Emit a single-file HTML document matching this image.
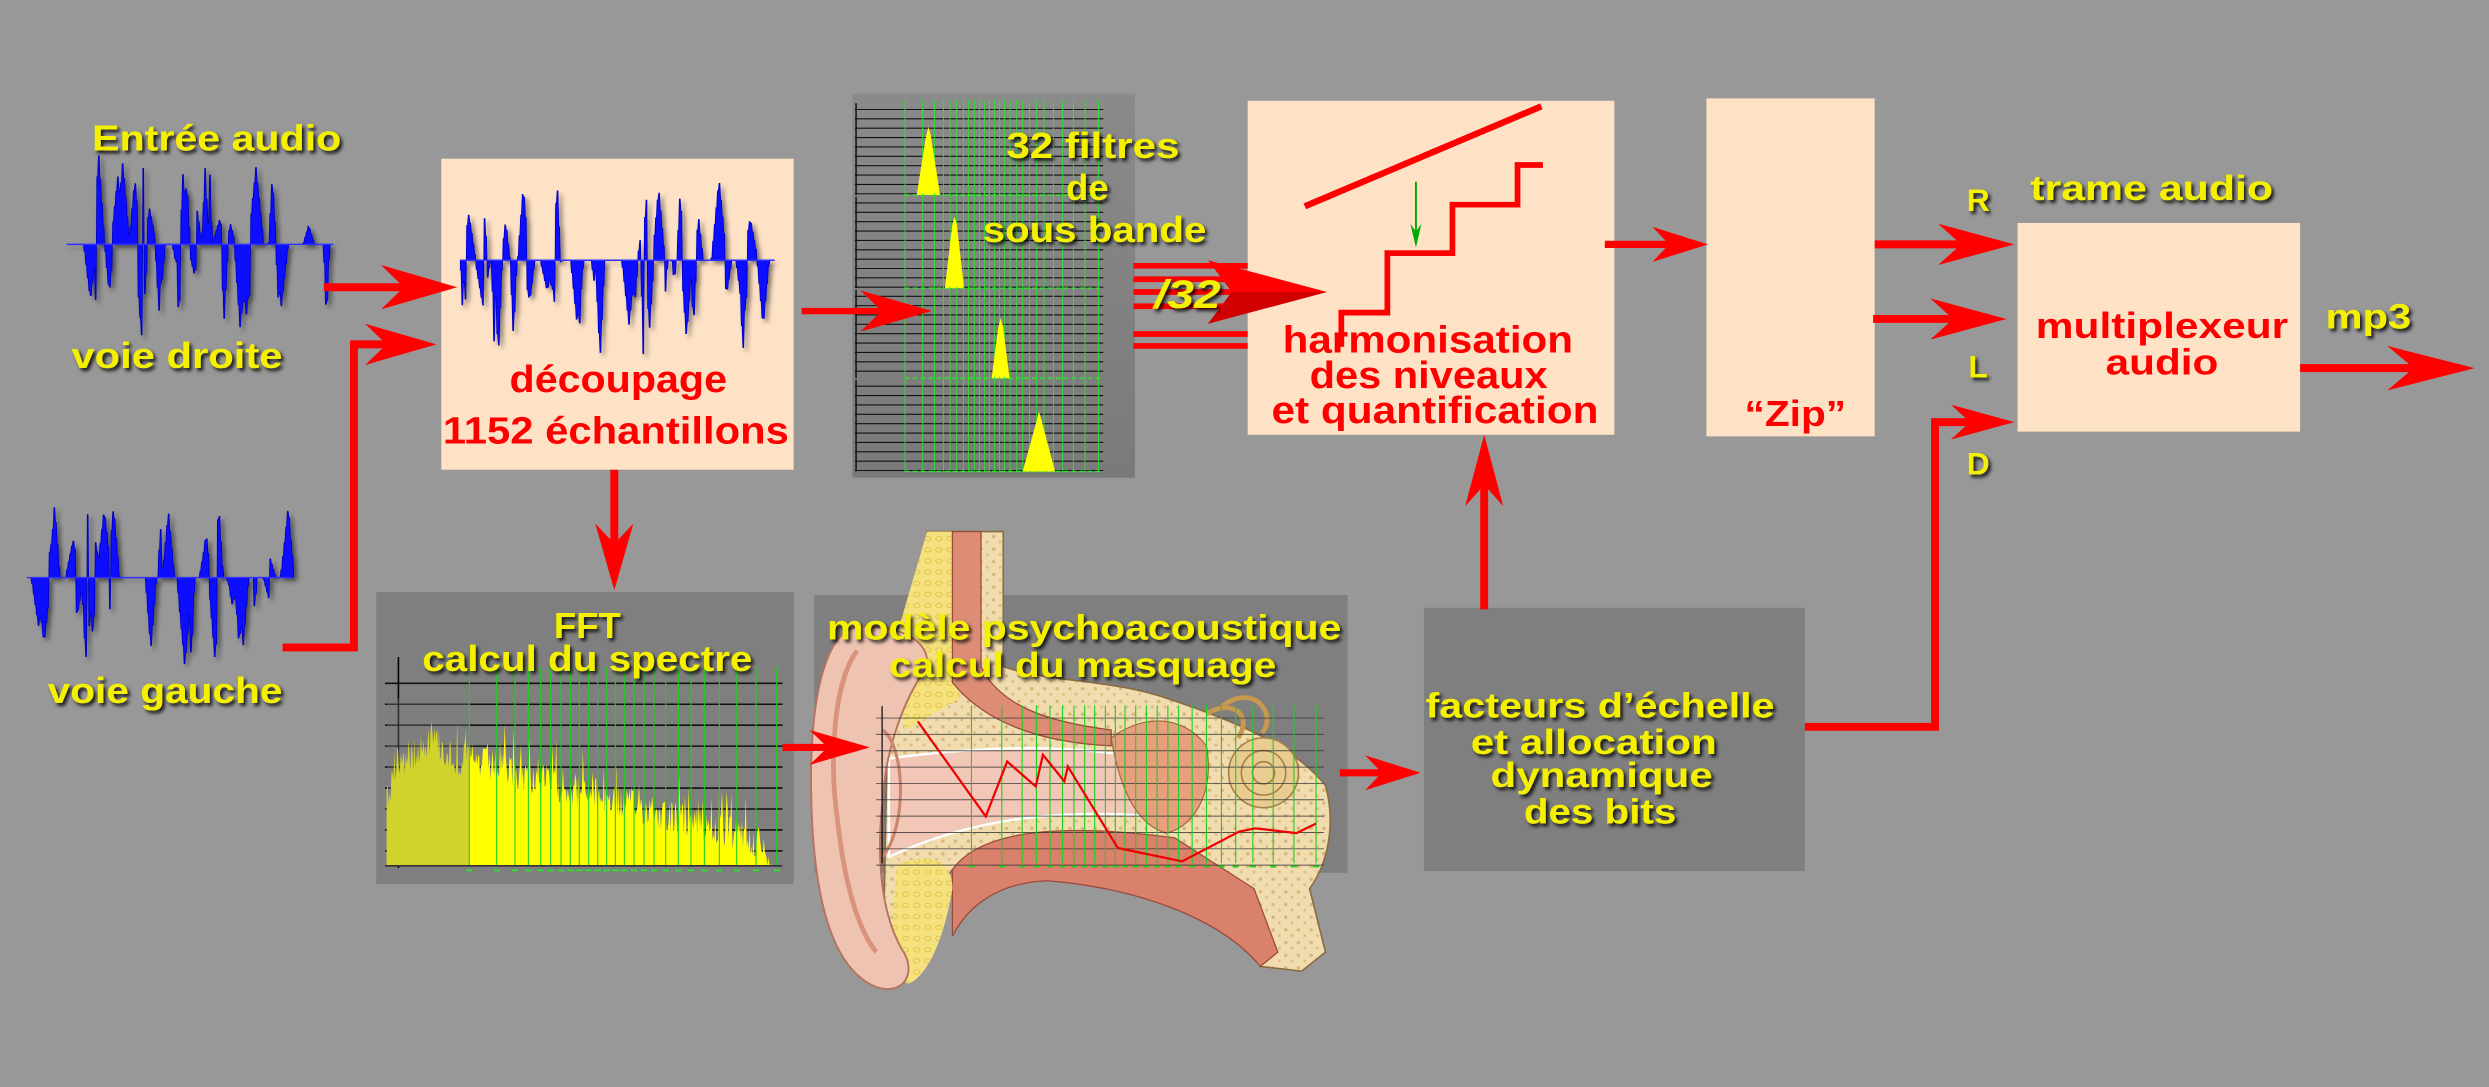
<!DOCTYPE html>
<html><head><meta charset="utf-8">
<style>
html,body{margin:0;padding:0;background:#989898;}
svg{display:block;}
.y{fill:#f4f000;font-family:"Liberation Sans",sans-serif;font-weight:bold;filter:url(#sh);}
.r{fill:#ff0000;font-family:"Liberation Sans",sans-serif;font-weight:bold;}
</style></head>
<body>
<svg id="s" width="2489" height="1087" viewBox="0 0 1568 685" preserveAspectRatio="none" xmlns="http://www.w3.org/2000/svg">
<defs>
<filter id="sh" x="-10%" y="-30%" width="130%" height="180%"><feDropShadow dx="1.6" dy="1.8" stdDeviation="1.2" flood-color="#000" flood-opacity="0.85"/></filter>
<filter id="ws" x="-5%" y="-5%" width="115%" height="115%"><feDropShadow dx="2" dy="2" stdDeviation="1.5" flood-color="#000" flood-opacity="0.5"/></filter>
<linearGradient id="gb" x1="0" x2="0" y1="0" y2="1"><stop offset="0" stop-color="#8a8a8a"/><stop offset="1" stop-color="#7a7a7a"/></linearGradient>
<pattern id="bone" width="8" height="8" patternUnits="userSpaceOnUse"><rect width="8" height="8" fill="#f0dcae"/><circle cx="2" cy="2" r="1.1" fill="#d7b77a"/><circle cx="6" cy="5.5" r="0.9" fill="#dcbd84"/></pattern>
<pattern id="cart" width="7" height="7" patternUnits="userSpaceOnUse"><rect width="7" height="7" fill="#f5e27e"/><ellipse cx="3.5" cy="3.5" rx="2" ry="1.4" fill="none" stroke="#e3c24a" stroke-width="0.6"/></pattern>
</defs>
<rect width="1568" height="685" fill="#989898"/>

<!-- boxes -->
<rect x="278" y="100" width="222" height="196" fill="#fee2c6"/>
<rect x="537" y="59" width="178" height="242" fill="url(#gb)"/>
<rect x="786" y="63.5" width="231" height="210.5" fill="#fee2c6"/>
<rect x="1075" y="62" width="106" height="213" fill="#fee2c6"/>
<rect x="1271" y="140.5" width="178" height="131.5" fill="#fee2c6"/>
<rect x="237" y="373" width="263" height="184" fill="#7f7f7f"/>
<rect x="513" y="375" width="336" height="175" fill="#7f7f7f"/>
<rect x="897" y="383" width="240" height="166" fill="#7f7f7f"/>

<g id="dyn"></g>

<!-- harmonisation drawing -->
<line x1="822" y1="130" x2="971" y2="67" stroke="#f00" stroke-width="4"/>
<polyline points="845,218.6 845,197 874,197 874,159.5 915,159.5 915,129 956,129 956,104 972,104" fill="none" stroke="#f00" stroke-width="3.6"/>
<line x1="892" y1="114.5" x2="892" y2="150" stroke="#0a0" stroke-width="1.2"/>
<polygon points="888.5,141 892,156 895.5,141 892,146" fill="#0a0"/>

<!-- /32 lines -->
<g stroke="#f00" stroke-width="3.6">
<line x1="714" y1="167.5" x2="786" y2="167.5"/><line x1="714" y1="176" x2="786" y2="176"/>
<line x1="714" y1="184" x2="786" y2="184"/><line x1="714" y1="193" x2="786" y2="193"/>
<line x1="714" y1="210.5" x2="786" y2="210.5"/><line x1="714" y1="218" x2="786" y2="218"/>
</g>
<polygon points="761,164 836,184 761,204 776,184" fill="#f00"/>
<polygon points="776,184 836,184 761,204" fill="#b00000" opacity="0.6"/>

<!-- yellow texts -->
<text class="y" x="58" y="95" font-size="23" textLength="157" lengthAdjust="spacingAndGlyphs">Entrée audio</text>
<text class="y" x="45" y="232" font-size="23" textLength="133" lengthAdjust="spacingAndGlyphs">voie droite</text>
<text class="y" x="30" y="443" font-size="23" textLength="148" lengthAdjust="spacingAndGlyphs">voie gauche</text>
<text class="y" x="634" y="99.6" font-size="23" textLength="109" lengthAdjust="spacingAndGlyphs">32 filtres</text>
<text class="y" x="685" y="126" font-size="23" text-anchor="middle">de</text>
<text class="y" x="619" y="152.5" font-size="23" textLength="141" lengthAdjust="spacingAndGlyphs">sous bande</text>
<text class="y" x="727" y="194" font-size="25" font-style="italic" textLength="42" lengthAdjust="spacingAndGlyphs">/32</text>
<text class="y" x="370" y="402" font-size="23" text-anchor="middle">FFT</text>
<text class="y" x="266" y="423" font-size="23" textLength="208" lengthAdjust="spacingAndGlyphs">calcul du spectre</text>
<text class="y" x="898" y="452" font-size="22" textLength="220" lengthAdjust="spacingAndGlyphs">facteurs d’échelle</text>
<text class="y" x="926.5" y="475" font-size="22" textLength="155" lengthAdjust="spacingAndGlyphs">et allocation</text>
<text class="y" x="939" y="496" font-size="22" textLength="140" lengthAdjust="spacingAndGlyphs">dynamique</text>
<text class="y" x="960" y="519" font-size="22" textLength="96" lengthAdjust="spacingAndGlyphs">des bits</text>
<text class="y" x="1239" y="133" font-size="20">R</text>
<text class="y" x="1240" y="238" font-size="20">L</text>
<text class="y" x="1239" y="299" font-size="20">D</text>
<text class="y" x="1279" y="126" font-size="22" textLength="153" lengthAdjust="spacingAndGlyphs">trame audio</text>
<text class="y" x="1465" y="207" font-size="22" textLength="54" lengthAdjust="spacingAndGlyphs">mp3</text>

<!-- red texts -->
<text class="r" x="321" y="247" font-size="24" textLength="137" lengthAdjust="spacingAndGlyphs">découpage</text>
<text class="r" x="279" y="279.5" font-size="24" textLength="218" lengthAdjust="spacingAndGlyphs">1152 échantillons</text>
<text class="r" x="808" y="222" font-size="24" textLength="183" lengthAdjust="spacingAndGlyphs">harmonisation</text>
<text class="r" x="825" y="244.5" font-size="24" textLength="150" lengthAdjust="spacingAndGlyphs">des niveaux</text>
<text class="r" x="801" y="266.6" font-size="24" textLength="206" lengthAdjust="spacingAndGlyphs">et quantification</text>
<text class="r" x="1099" y="268.6" font-size="23" textLength="64" lengthAdjust="spacingAndGlyphs">“Zip”</text>
<text class="r" x="1282.5" y="213" font-size="23" textLength="159" lengthAdjust="spacingAndGlyphs">multiplexeur</text>
<text class="r" x="1326.5" y="236" font-size="23" textLength="71" lengthAdjust="spacingAndGlyphs">audio</text>

<g id="top"></g>
</svg>
<script>
(function(){
var NS="http://www.w3.org/2000/svg";
var dyn=document.getElementById('dyn'), top=document.getElementById('top');
function el(p,n,a){var e=document.createElementNS(NS,n);for(var k in a)e.setAttribute(k,a[k]);p.appendChild(e);return e;}
var seed=12345;function rnd(){seed=(seed*1103515245+12345)&0x7fffffff;return seed/0x7fffffff;}

// waveforms
function wave(x0,x1,cy,up,dn,gaps){
  var n=Math.round(x1-x0),v=[];for(var i=0;i<=n;i++)v.push(0);
  for(var s=0;s<n/4;s++){var c=rnd()*n,h=(rnd()<0.5?-1:1)*(0.2+rnd()*0.8),w=1+rnd()*4;
    if(gaps&&gaps.some(function(g){return c>g[0]-x0&&c<g[1]-x0;}))continue;
    for(var i=Math.max(0,Math.floor(c-w));i<=Math.min(n,Math.ceil(c+w));i++){var f=1-Math.abs(i-c)/w;if(f>0){var val=h*f;if(Math.abs(val)>Math.abs(v[i]))v[i]=val;}}}
  var d="M"+x0+" "+cy;
  for(var i=0;i<=n;i+=0.5){var ii=Math.floor(i);var a=v[ii];d+=" L"+(x0+i).toFixed(1)+" "+(cy-(a>0?a*up:a*dn)).toFixed(1);}
  d+=" L"+x1+" "+cy+"Z";
  el(dyn,'path',{d:d,fill:'#0a0aff',stroke:'#0000c0','stroke-width':'0.5',filter:'url(#ws)'});
  el(dyn,'line',{x1:x0,y1:cy,x2:x1,y2:cy,stroke:'#3030ff','stroke-width':'1'});
}
wave(42,210,154,58,62);
wave(17,185,364,55,60);
wave(290,488,164,55,62,[[385,393],[444,452]]);

// filter panel
var gx=[195,248,283,310,330,350,370,385,403,418,433,448,463,478,493,510,530,548,568,590,612,640,668,700,735,775];
var panels=[[65,122.9],[123.9,181.6],[182.7,238.4],[239.4,297.1]];
var peaks=[[577.5,592.2,80],[595.3,607.3,136.5],[624.7,636,200.5],[644.3,664.7,259.3]];
panels.forEach(function(p,k){
  for(var y=p[0]+4;y<p[1];y+=5.9)el(dyn,'line',{x1:538.6,y1:y,x2:695,y2:y,stroke:'#111','stroke-width':'0.7'});
  el(dyn,'line',{x1:539.3,y1:p[0],x2:539.3,y2:p[1],stroke:'#000','stroke-width':'0.8'});
  gx.forEach(function(z){var x=529.2+z/4.762;el(dyn,'line',{x1:x,y1:p[0]-2,x2:x,y2:p[1],stroke:'#2ee02e','stroke-width':'0.6'});});
  el(dyn,'line',{x1:570,y1:p[1],x2:695,y2:p[1],stroke:'#2ee02e','stroke-width':'1','stroke-dasharray':'3,2'});
  var q=peaks[k],b=p[1],m=(q[0]+q[1])/2;
  el(dyn,'polygon',{points:q[0]+","+b+" "+(m-1.5)+","+(q[2]+6)+" "+m+","+q[2]+" "+(m+1.5)+","+(q[2]+5)+" "+q[1]+","+b,fill:'#ffff00'});
});

// FFT chart
for(var k=0;k<9;k++){var y=430.6+k*13.2;el(dyn,'line',{x1:242.5,y1:y,x2:493,y2:y,stroke:'#111','stroke-width':'1'});}
el(dyn,'line',{x1:251,y1:414,x2:251,y2:547,stroke:'#000','stroke-width':'1'});
var sd="M243.6 545.6";
for(var x=243.6;x<=487;x+=0.6){
  var env;
  if(x<296) env=462+ (x<250?(250-x)*5:0) + Math.sin((x-243)/6)*6;
  else env=468+(x-296)*0.28;
  if(x>480) env=522+(x-480)*3.3;
  var y=env+rnd()*22-(rnd()<0.08?18:0);
  if(y>545.6)y=545.6;
  sd+=" L"+x.toFixed(1)+" "+y.toFixed(1);
}
sd+=" L487 545.6Z";
el(dyn,'path',{d:sd,fill:'#ffff00'});
el(dyn,'rect',{x:243.6,y:440,width:52,height:106,fill:'#7f7f7f',opacity:'0.35'});
var fg=[298,380,435,475,512,542,573,601,628,656,683,710,736,763,792,822,852,887,925,963,1003,1048,1100,1158,1220];
fg.forEach(function(z){var x=233.1+z/4.762;el(dyn,'line',{x1:x,y1:420.4,x2:x,y2:545.6,stroke:'#1ed01e','stroke-width':'0.7'});
  el(dyn,'line',{x1:x-2,y1:548.5,x2:x+2,y2:548.5,stroke:'#2ee02e','stroke-width':'1.2'});});
el(dyn,'line',{x1:242.5,y1:545.6,x2:493,y2:545.6,stroke:'#333','stroke-width':'1'});

// ear
var g=el(dyn,'g',{});
el(g,'path',{d:"M632 335 L632 420 C660 430 700 428 735 440 C780 455 815 470 835 495 C842 520 836 545 825 560 L835 600 L820 612 L794 609 C785 585 775 565 760 552 L741 559 L735 545 L700 545 L600 548 C590 560 585 590 575 610 C570 620 560 622 556 615 L560 420 L584 400 L584 335 Z",fill:'url(#bone)',stroke:'#8a6a40','stroke-width':'1'});
el(g,'path',{d:"M584 335 L605 335 L605 440 L570 460 L565 400 Z",fill:'url(#cart)'});
el(g,'path',{d:"M600 335 L618 335 L618 420 C630 445 660 455 700 460 L700 470 C655 468 620 455 600 430 Z",fill:'#dd8d76',stroke:'#9a4a3a','stroke-width':'0.8'});
el(g,'path',{d:"M560 478 C620 470 680 468 730 480 L735 515 C680 510 620 512 560 540 Z",fill:'#f3c7b8',stroke:'#fff','stroke-width':'1.5'});
el(g,'path',{d:"M600 548 C620 520 680 520 740 528 L790 560 L805 600 L794 609 C770 580 720 560 660 555 C630 556 610 570 600 590 Z",fill:'#d9816d',stroke:'#9a4a3a','stroke-width':'0.8'});
el(g,'path',{d:"M565 545 C590 535 600 545 600 560 C595 590 585 615 572 620 L560 610 Z",fill:'url(#cart)'});
el(g,'path',{d:"M700 465 C720 450 745 450 760 470 C765 495 755 520 735 525 C715 520 705 495 700 465 Z",fill:'#e6a07e',stroke:'#a0643c','stroke-width':'0.7'});
el(g,'circle',{cx:796,cy:487,r:22,fill:'#e9cc92',stroke:'#a58046','stroke-width':'1'});
el(g,'circle',{cx:796,cy:487,r:14,fill:'none',stroke:'#a58046','stroke-width':'1'});
el(g,'circle',{cx:796,cy:487,r:7,fill:'none',stroke:'#a58046','stroke-width':'1'});
el(g,'path',{d:"M760 450 C775 440 790 450 780 465 M770 445 C790 430 805 450 795 462",fill:'none',stroke:'#c79850','stroke-width':'3'});
el(g,'path',{d:"M545 395 C520 392 510 440 511 500 C512 560 522 610 552 622 C570 628 578 612 568 598 C555 575 552 540 556 505 C558 470 570 440 584 420 C586 405 570 395 545 395 Z",fill:'#efc3b2',stroke:'#b5735f','stroke-width':'1.2'});
el(g,'path',{d:"M540 410 C525 430 522 480 528 520 C532 555 540 585 552 600",fill:'none',stroke:'#d9937d','stroke-width':'3'});
el(g,'path',{d:"M556 460 C570 470 572 520 556 540",fill:'none',stroke:'#c98570','stroke-width':'2'});
// psycho grid
for(var k=0;k<10;k++){var y=452.5+k*10.3;el(top,'line',{x1:552,y1:y,x2:834,y2:y,stroke:'#333','stroke-width':'0.6',opacity:'0.8'});}
el(top,'line',{x1:555.7,y1:445,x2:555.7,y2:544,stroke:'#111','stroke-width':'0.8'});
var pg=[480,565,622,662,700,735,767,797,825,855,883,910,940,970,1000,1030,1060,1098,1138,1180,1220,1268,1325,1383,1445];
pg.forEach(function(z){var x=504+z/4.445;el(top,'line',{x1:x,y1:444.5,x2:x,y2:544,stroke:'#1ed01e','stroke-width':'0.7'});
 el(top,'line',{x1:x-2,y1:546,x2:x+2,y2:546,stroke:'#1ed01e','stroke-width':'1.2'});});
el(top,'polyline',{points:"578.2,454.6 621,514.5 634.5,479.9 652.5,495.6 657,475.6 670.5,492.4 672.7,483 704.2,534.4 744.7,542.8 780.7,524 791,522 816.7,525 829,519",fill:'none',stroke:'#e00','stroke-width':'1.4'});
var t1=el(top,'text',{class:'y',x:521,y:403,'font-size':'22',textLength:'324',lengthAdjust:'spacingAndGlyphs'});t1.textContent="modèle psychoacoustique";
var t2=el(top,'text',{class:'y',x:560,y:426.5,'font-size':'22',textLength:'244',lengthAdjust:'spacingAndGlyphs'});t2.textContent="calcul du masquage";

// arrows
function arrow(pts,hl,hh,w){
  var n=pts.length,a=pts[n-2],b=pts[n-1],dx=b[0]-a[0],dy=b[1]-a[1],L=Math.hypot(dx,dy),ux=dx/L,uy=dy/L,px=-uy,py=ux;
  var bx=b[0]-ux*hl,by=b[1]-uy*hl,nx=b[0]-ux*hl*0.7,ny=b[1]-uy*hl*0.7;
  var p=pts.slice(0,n-1).map(function(q){return q.join(',');});p.push(nx+','+ny);
  el(top,'polyline',{points:p.join(' '),fill:'none',stroke:'#f00','stroke-width':w,'stroke-linejoin':'miter'});
  el(top,'polygon',{points:b.join(',')+' '+(bx+px*hh)+','+(by+py*hh)+' '+nx+','+ny+' '+(bx-px*hh)+','+(by-py*hh),fill:'#f00'});
}
arrow([[204,181],[288,181]],48,14,5);
arrow([[178,408],[223,408],[223,217],[275,217]],45,13,5);
arrow([[387,296],[387,372]],42,12,5);
arrow([[505,196],[587,196]],45,13,4);
arrow([[1011,154],[1076,154]],35,11,4.5);
arrow([[1181,154],[1269,154]],48,13,5);
arrow([[1180,201],[1264,201]],48,13,5);
arrow([[1137,458],[1219,458],[1219,266],[1269,266]],40,11,5);
arrow([[935,384],[935,274]],45,12,5);
arrow([[1449,232],[1559,232]],55,14,5);
arrow([[493,471],[548,471]],38,11,4.5);
arrow([[844,487],[895,487]],35,11,4.5);
})();
</script>
</body></html>
